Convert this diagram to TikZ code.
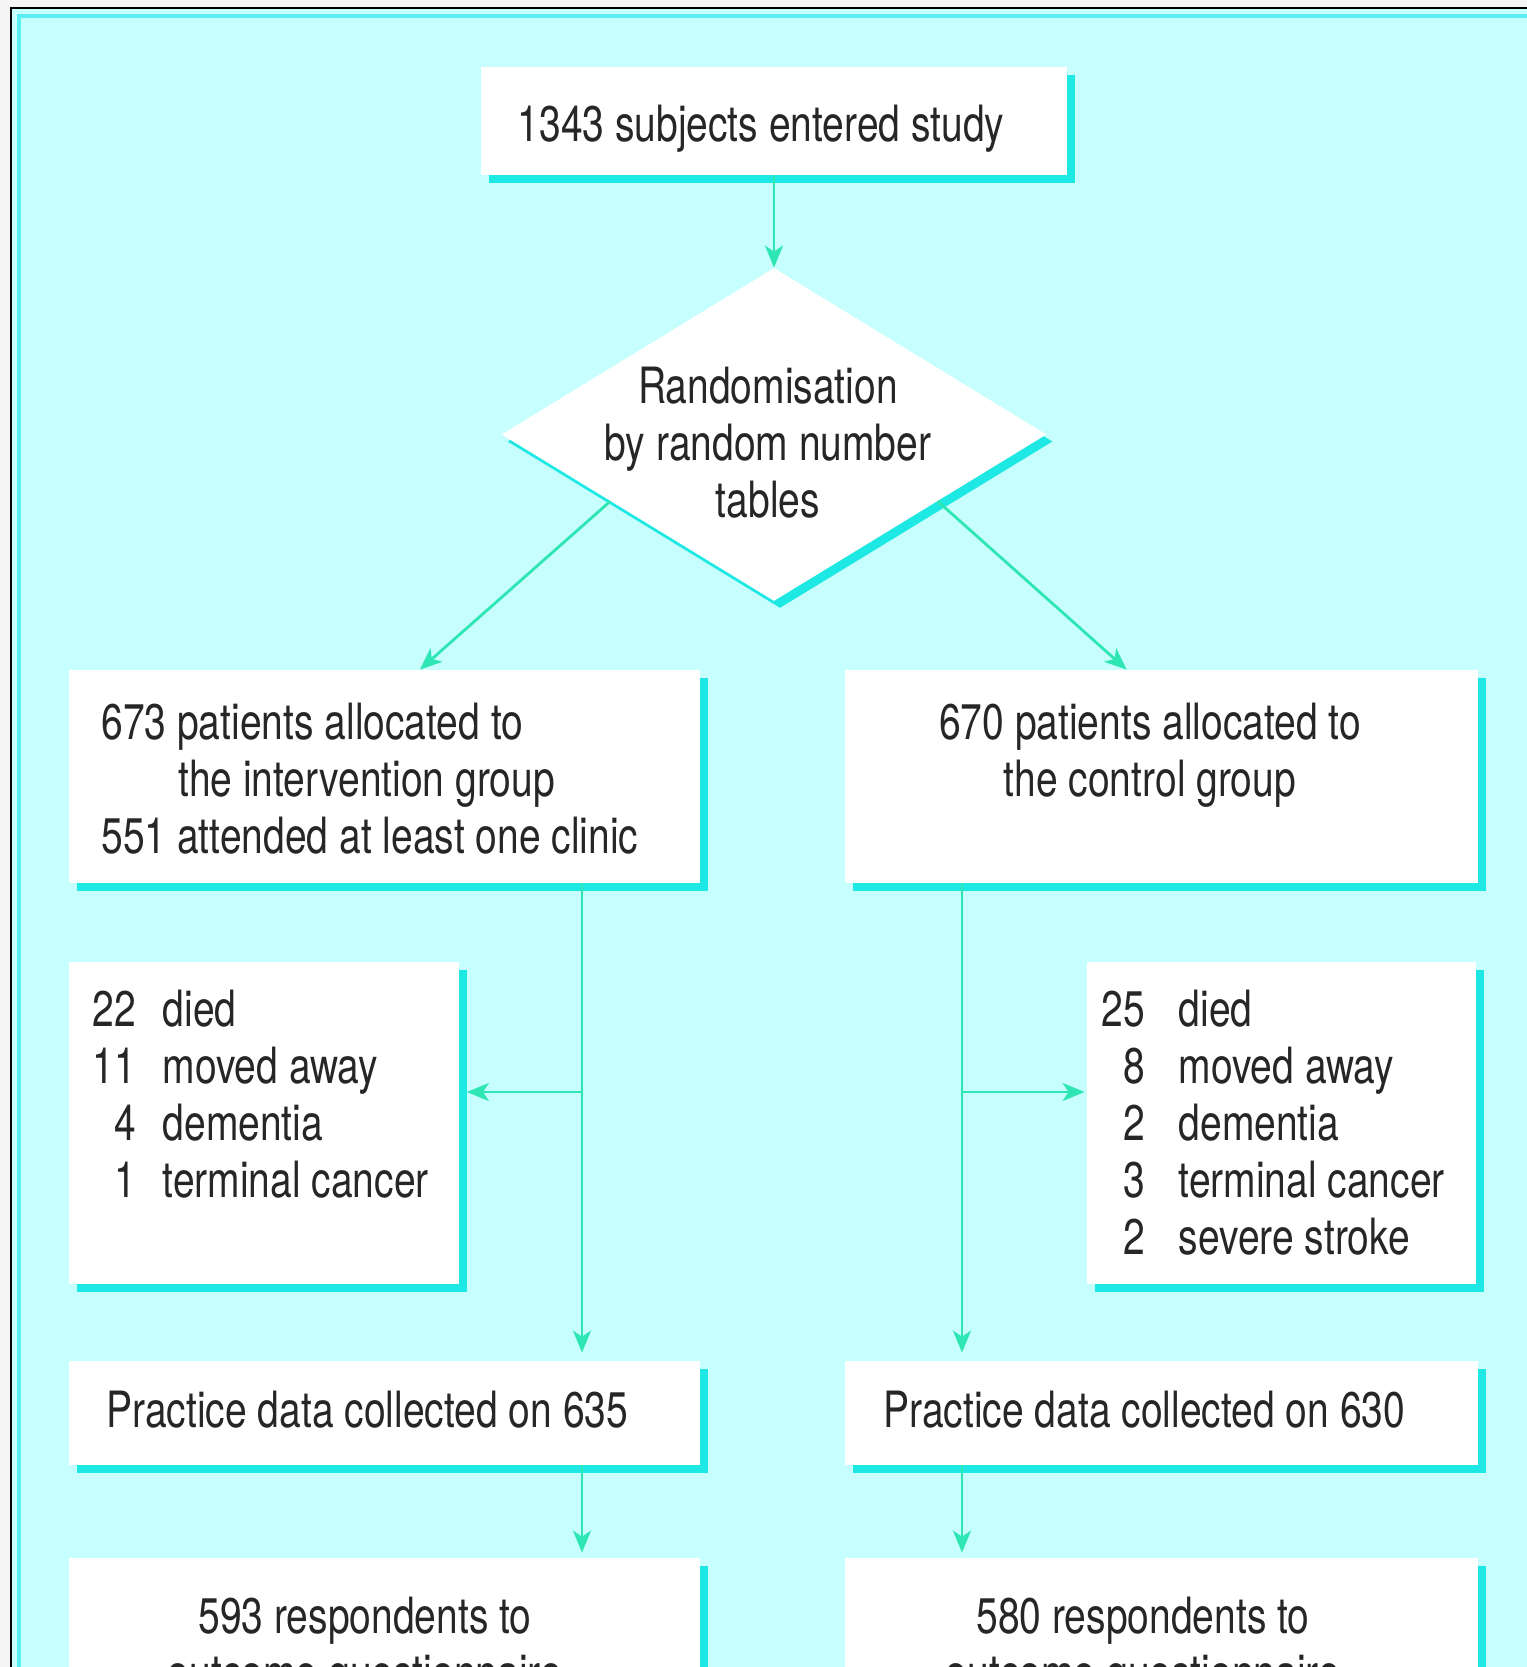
\documentclass[tikz,border=0pt]{standalone}
\usepackage{fontspec}
\setmainfont{TeX Gyre Heros}[FakeStretch=0.78]
\usetikzlibrary{arrows.meta,shapes.geometric,shadows,calc}
\definecolor{pagec}{RGB}{245,245,245}
\definecolor{bgc}{RGB}{198,255,253}
\definecolor{rimc}{RGB}{90,238,242}
\definecolor{shadc}{RGB}{30,232,228}
\definecolor{arrc}{RGB}{45,230,180}
\tikzset{
  boxst/.style={rectangle, fill=white, inner sep=0pt,
    drop shadow={shadow xshift=3.75pt, shadow yshift=-3.75pt, fill=shadc, opacity=1}},
  diast/.style={diamond, fill=white, inner sep=0pt,
    drop shadow={shadow xshift=3pt, shadow yshift=-3.5pt, fill=shadc, opacity=1}},
  txt/.style={font=\fontsize{25}{28.5}\selectfont, inner sep=0pt, text=black!85},
  arr/.style={draw=arrc, line width=1.4pt, -{Stealth[length=11pt,width=9pt,inset=3pt]}},
  ln/.style={draw=arrc, line width=1.4pt}
}
\begin{document}
\begin{tikzpicture}[x=0.5pt,y=-0.5pt]
\useasboundingbox (0,0) rectangle (1527,1667);
% page and frame
\fill[pagec] (0,0) rectangle (1527,1667);
\fill[bgc] (11,8) rectangle (1540,1690);
\draw[rimc, line width=2pt] (19,1690) -- (19,16) -- (1540,16);
\draw[black, line width=1.2pt] (11,1690) -- (11,8) -- (1540,8);

% boxes
\node[boxst, minimum width=293pt, minimum height=54pt] (top) at (774,121) {};
\node[diast, minimum width=272.5pt, minimum height=166.5pt] (dia) at (774,434.5) {};
\node[boxst, minimum width=315.5pt, minimum height=106.5pt] (L1) at (384.5,776.5) {};
\node[boxst, minimum width=316.5pt, minimum height=106.5pt] (R1) at (1161.5,776.5) {};
\node[boxst, minimum width=195pt, minimum height=161pt] (L2) at (264,1123) {};
\node[boxst, minimum width=194.5pt, minimum height=161pt] (R2) at (1281.5,1123) {};
\node[boxst, minimum width=315.5pt, minimum height=52pt] (L3) at (384.5,1413) {};
\node[boxst, minimum width=316.5pt, minimum height=52pt] (R3) at (1161.5,1413) {};
\node[boxst, minimum width=315.5pt, minimum height=121pt] (L4) at (384.5,1679) {};
\node[boxst, minimum width=316.5pt, minimum height=121pt] (R4) at (1161.5,1679) {};

% connectors
\draw[arr] (top.south) -- (dia.north);
\draw[arr] ($(dia.west)!0.4!(dia.south)$) -- ($(L1.north west)!0.556!(L1.north east)$);
\draw[arr] ($(dia.east)!0.4!(dia.south)$) -- ($(R1.north west)!0.445!(R1.north east)$);

\coordinate (lb) at (582,1092);
\coordinate (rb) at (962,1092);
\draw[arr, shorten >=4pt] (L1.south -| lb) -- (L3.north -| lb);
\draw[arr, shorten >=4pt] (R1.south -| rb) -- (R3.north -| rb);
\draw[arr] (lb) -- ([xshift=3.75pt]lb -| L2.east);
\draw[arr] (rb) -- ([xshift=-1pt]rb -| R2.west);
\draw[arr, shorten >=2.5pt] (L3.south -| lb) -- (L4.north -| lb);
\draw[arr, shorten >=2.5pt] (R3.south -| rb) -- (R4.north -| rb);

% texts
\node[txt, anchor=base] (ttop) at (761,141) {1343 subjects entered study};
\node[txt, anchor=base] (tdia) at (768,403) {\begin{tabular}[t]{@{}c@{}}Randomisation\\ by random number\\ tables\end{tabular}};
\node[txt, anchor=base west] (tL1) at (101,739) {\begin{tabular}[t]{@{}l@{}}673 patients allocated to\\ \hspace{38.5pt}the intervention group\\ 551 attended at least one clinic\end{tabular}};
\node[txt, anchor=base] (tR1) at (1150,739) {\begin{tabular}[t]{@{}c@{}}670 patients allocated to\\ the control group\end{tabular}};
\node[txt, anchor=base west] (tL2) at (92,1026) {\begin{tabular}[t]{@{}r@{\hspace{13.5pt}}l@{}}22 & died\\ 11 & moved away\\ 4 & dementia\\ 1 & terminal cancer\end{tabular}};
\node[txt, anchor=base west] (tR2) at (1101,1026) {\begin{tabular}[t]{@{}r@{\hspace{17pt}}l@{}}25 & died\\ 8 & moved away\\ 2 & dementia\\ 3 & terminal cancer\\ 2 & severe stroke\end{tabular}};
\node[txt, anchor=base west] (tL3) at (106,1427) {Practice data collected on 635};
\node[txt, anchor=base west] (tR3) at (883,1427) {Practice data collected on 630};
\node[txt, anchor=base] (tL4) at (365,1633) {\begin{tabular}[t]{@{}c@{}}593 respondents to\\ outcome questionnaire\end{tabular}};
\node[txt, anchor=base] (tR4) at (1143,1633) {\begin{tabular}[t]{@{}c@{}}580 respondents to\\ outcome questionnaire\end{tabular}};
\end{tikzpicture}
\end{document}
